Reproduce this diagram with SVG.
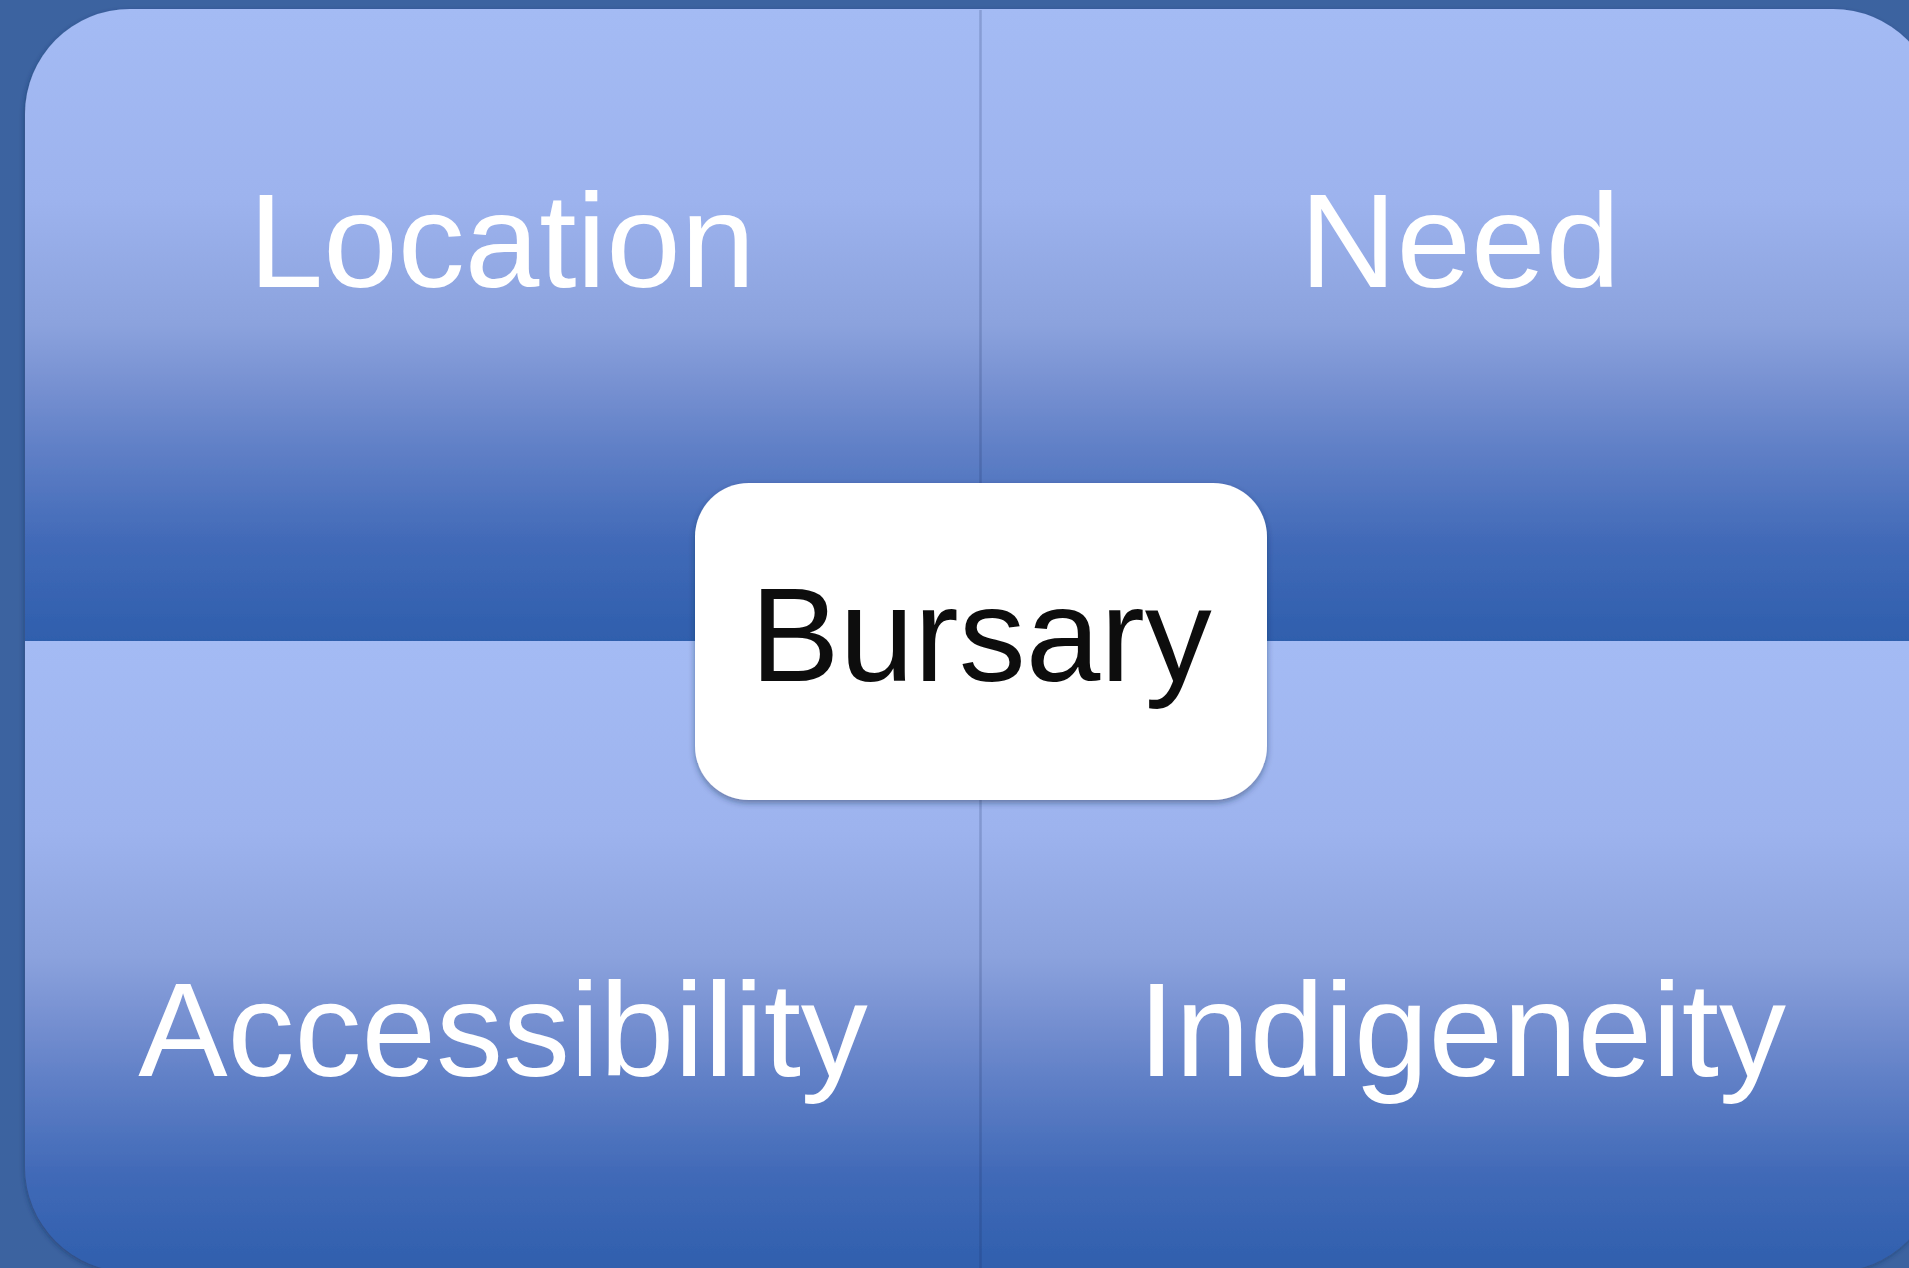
<svg xmlns="http://www.w3.org/2000/svg" width="1909" height="1268" viewBox="0 0 1909 1268">
  <defs>
    <linearGradient id="quadGrad" x1="0" y1="0" x2="0" y2="1">
      <stop offset="0" stop-color="#A4BBF4"/>
      <stop offset="0.3" stop-color="#9DB3EE"/>
      <stop offset="0.5" stop-color="#8BA2DD"/>
      <stop offset="0.6" stop-color="#7690D1"/>
      <stop offset="0.7" stop-color="#5F7FC6"/>
      <stop offset="0.85" stop-color="#4069B7"/>
      <stop offset="1" stop-color="#2F5FAD"/>
    </linearGradient>
    <filter id="quadShadow" x="-5%" y="-5%" width="110%" height="110%">
      <feDropShadow dx="-1" dy="2" stdDeviation="2.5" flood-color="#1a2f5a" flood-opacity="0.45"/>
    </filter>
    <filter id="boxShadow" x="-10%" y="-10%" width="120%" height="125%">
      <feDropShadow dx="0" dy="3" stdDeviation="3" flood-color="#1a2a4a" flood-opacity="0.45"/>
    </filter>
  </defs>
  <style>
    .quad { fill: url(#quadGrad); }
    .qlabel { font-family: "Liberation Sans", Arial, sans-serif; font-size: 134px; fill: #FFFFFF; text-anchor: middle; }
    .center { font-family: "Liberation Sans", Arial, sans-serif; font-size: 134px; fill: #0D0D0D; text-anchor: middle; }
    .divider { stroke: #1a2a5a; stroke-opacity: 0.2; stroke-width: 2.5; fill: none; }
  </style>
  <rect x="0" y="0" width="1909" height="1268" fill="#3C63A0"/>
  <g filter="url(#quadShadow)">
    <g id="location">
      <path class="quad" d="M25,641 L25,114 A105,105 0 0 1 130,9 L981,9 L981,641 Z"/>
      <text class="qlabel" x="502" y="287">Location</text>
    </g>
    <g id="need">
      <path class="quad" d="M981,9 L1833,9 A105,105 0 0 1 1938,114 L1938,641 L981,641 Z"/>
      <text class="qlabel" x="1460" y="287">Need</text>
    </g>
    <g id="accessibility">
      <path class="quad" d="M25,641 L981,641 L981,1272 L130,1272 A105,105 0 0 1 25,1167 Z"/>
      <text class="qlabel" x="503" y="1076">Accessibility</text>
    </g>
    <g id="indigeneity">
      <path class="quad" d="M981,641 L1938,641 L1938,1167 A105,105 0 0 1 1833,1272 L981,1272 Z"/>
      <text class="qlabel" x="1462" y="1076">Indigeneity</text>
    </g>
  </g>
  <g id="connectors">
    <line class="divider" x1="980.5" y1="10" x2="980.5" y2="1272"/>
  </g>
  <g id="bursary">
    <rect x="695" y="483" width="572" height="317" rx="54" ry="54" fill="#FFFFFF" filter="url(#boxShadow)"/>
    <text class="center" x="981" y="681">Bursary</text>
  </g>
</svg>
